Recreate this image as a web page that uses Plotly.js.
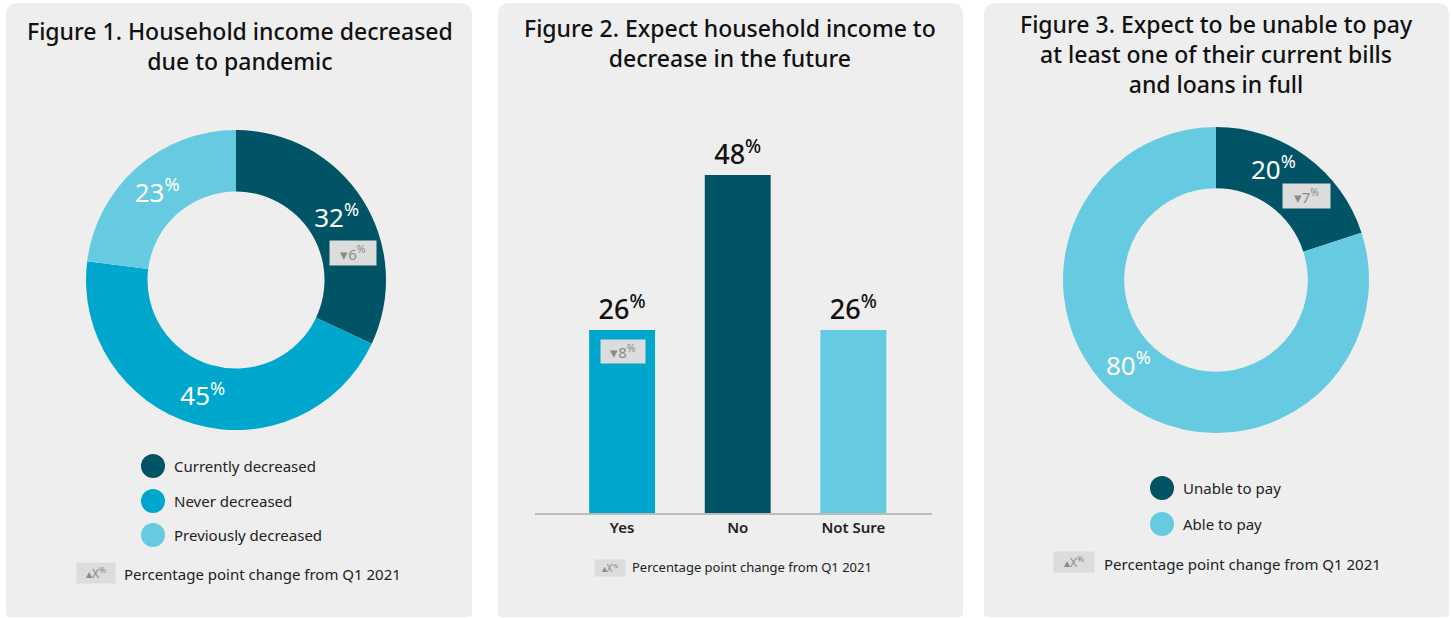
<!DOCTYPE html>
<html>
<head>
<meta charset="utf-8">
<script src="https://cdn.plot.ly/plotly-3.0.1.min.js"></script>
<style>html,body{margin:0;padding:0;background:#fff;}#chart{width:1451px;height:618px;}</style>
</head>
<body>
<div id="chart"></div>
<script>
// ---- data ----
const fig1Labels = ["Currently decreased", "Never decreased", "Previously decreased"];
const fig1Values = [32, 45, 23];
const fig1Change = ["▾", "6"];
const fig2Categories = ["Yes", "No", "Not Sure"];
const fig2Values = [26, 48, 26];
const fig2Change = ["▾", "8"];
const fig3Labels = ["Unable to pay", "Able to pay"];
const fig3Values = [20, 80];
const fig3Change = ["▾", "7"];
const title1Lines = ["Figure 1. Household income decreased", "due to pandemic"];
const title2Lines = ["Figure 2. Expect household income to", "decrease in the future"];
const title3Lines = ["Figure 3. Expect to be unable to pay", "at least one of their current bills", "and loans in full"];
const noteText = "Percentage point change from Q1 2021";

// ---- styling ----
const DARK = "#005466", MID = "#00a7cc", LIGHT = "#66cbe0";
const PANEL = "#eeeeee", BADGE = "#dcdcdc";
const FONT = "Noto Sans, Lato, sans-serif";
const W = 1451, H = 618;
const px = x => x / W;
const py = y => 1 - y / H;

function roundedPanel(x0, y0, x1, y1, rt, rb) {
  const p = (x, y) => px(x) + "," + py(y);
  return {
    type: "path", xref: "paper", yref: "paper", layer: "below",
    fillcolor: PANEL, line: {width: 0},
    path: "M" + p(x0 + rt, y0) + " L" + p(x1 - rt, y0) + " Q" + p(x1, y0) + " " + p(x1, y0 + rt) +
          " L" + p(x1, y1 - rb) + " Q" + p(x1, y1) + " " + p(x1 - rb, y1) +
          " L" + p(x0 + rb, y1) + " Q" + p(x0, y1) + " " + p(x0, y1 - rb) +
          " L" + p(x0, y0 + rt) + " Q" + p(x0, y0) + " " + p(x0 + rt, y0) + " Z"
  };
}
function circle(cx, cy, r, color) {
  return {type: "circle", xref: "paper", yref: "paper", layer: "above",
    x0: px(cx - r), x1: px(cx + r), y0: py(cy + r), y1: py(cy - r),
    fillcolor: color, line: {width: 0}};
}
function text(x, y, t, opts) {
  return Object.assign({xref: "paper", yref: "paper", x: px(x), y: py(y), text: t,
    showarrow: false, xanchor: "left", yanchor: "middle",
    font: {family: FONT, size: 15, color: "#222"}}, opts || {});
}
function badge(cx, cy, w, h, arrow, val, size) {
  return text(cx, cy, arrow + val + '<sup>%</sup>', {
    xanchor: "center", bgcolor: BADGE, width: w - 8, height: h - 8, borderpad: 4,
    font: {family: FONT, size: size, color: "#8a8a8a"}
  });
}
function title(cx, cy, lines) {
  return text(cx, cy, lines.join("<br>"), {xanchor: "center", align: "center",
    font: {family: FONT, size: 23, color: "#111", weight: 500}});
}
const pct = v => v + "<sup>%</sup>";

const traces = [
  {
    type: "pie", values: fig1Values, labels: fig1Labels, sort: false, direction: "clockwise", rotation: 0,
    hole: 0.59, marker: {colors: [DARK, MID, LIGHT], line: {width: 0}},
    domain: {x: [px(86), px(386)], y: [py(430), py(130)]},
    texttemplate: "%{value}<sup>%</sup>", textposition: "inside", insidetextorientation: "horizontal",
    textfont: {family: FONT, size: 26, color: "#fff"}, hoverinfo: "none", showlegend: false
  },
  {
    type: "pie", values: fig3Values, labels: fig3Labels, sort: false, direction: "clockwise", rotation: 0,
    hole: 0.6, marker: {colors: [DARK, LIGHT], line: {width: 0}},
    domain: {x: [px(1063), px(1369)], y: [py(433), py(127)]},
    textinfo: "none", hoverinfo: "none", showlegend: false
  },
  {
    type: "bar", x: fig2Categories, y: fig2Values,
    marker: {color: [MID, DARK, LIGHT], line: {width: 0}},
    texttemplate: "%{y}<sup>%</sup>", textposition: "outside", constraintext: "none", cliponaxis: false,
    textfont: {family: FONT, size: 27, color: "#111", weight: 500}, hoverinfo: "none", showlegend: false
  }
];

const shapes = [
  roundedPanel(6, 3, 472, 617, 12, 4),
  roundedPanel(498, 3, 963, 617, 12, 4),
  roundedPanel(984, 3, 1449, 617, 12, 4),
  circle(153, 466, 12, DARK), circle(153, 501, 12, MID), circle(153, 535, 12, LIGHT),
  circle(1162, 488, 12, DARK), circle(1162, 524, 12, LIGHT)
];

const annotations = [
  title(240, 46.5, title1Lines),
  title(730, 42.5, title2Lines),
  title(1216, 53.5, title3Lines),
  text(172, 466, fig1Labels[0]), text(172, 501, fig1Labels[1]), text(172, 535, fig1Labels[2]),
  text(1181, 488, fig3Labels[0]), text(1181, 524, fig3Labels[1]),
  badge(96, 573, 38, 20, "▴", "X", 12), text(122, 574, noteText),
  badge(610, 568, 30, 16, "▴", "X", 10), text(630, 567, noteText, {font: {family: FONT, size: 13, color: "#222"}}),
  badge(1074, 562, 40, 20, "▴", "X", 12), text(1102, 564, noteText),
  text(1273, 168, pct(fig3Values[0]), {xanchor: "center", font: {family: FONT, size: 26, color: "#fff"}}),
  text(1128, 364, pct(fig3Values[1]), {xanchor: "center", font: {family: FONT, size: 26, color: "#fff"}}),
  badge(353, 253, 46, 24, fig1Change[0], fig1Change[1], 15),
  badge(623, 351, 44, 23, fig2Change[0], fig2Change[1], 15),
  badge(1306, 196, 47, 24, fig3Change[0], fig3Change[1], 15)
];

const layout = {
  width: W, height: H, margin: {l: 0, r: 0, t: 0, b: 0},
  paper_bgcolor: "#ffffff", plot_bgcolor: "rgba(0,0,0,0)",
  font: {family: FONT}, bargap: 0.43,
  xaxis: {domain: [px(535), px(932)], range: [-0.753, 2.68], showline: true, linecolor: "#bbbbbb", linewidth: 1.5,
    ticks: "", showgrid: false, zeroline: false, fixedrange: true,
    tickfont: {family: FONT, size: 15, color: "#222", weight: 600}},
  yaxis: {domain: [py(513), py(150)], range: [0, 51.56], visible: false, showgrid: false, zeroline: false, fixedrange: true},
  shapes: shapes, annotations: annotations
};

Plotly.newPlot("chart", traces, layout, {staticPlot: true, displayModeBar: false});
</script>
</body>
</html>
